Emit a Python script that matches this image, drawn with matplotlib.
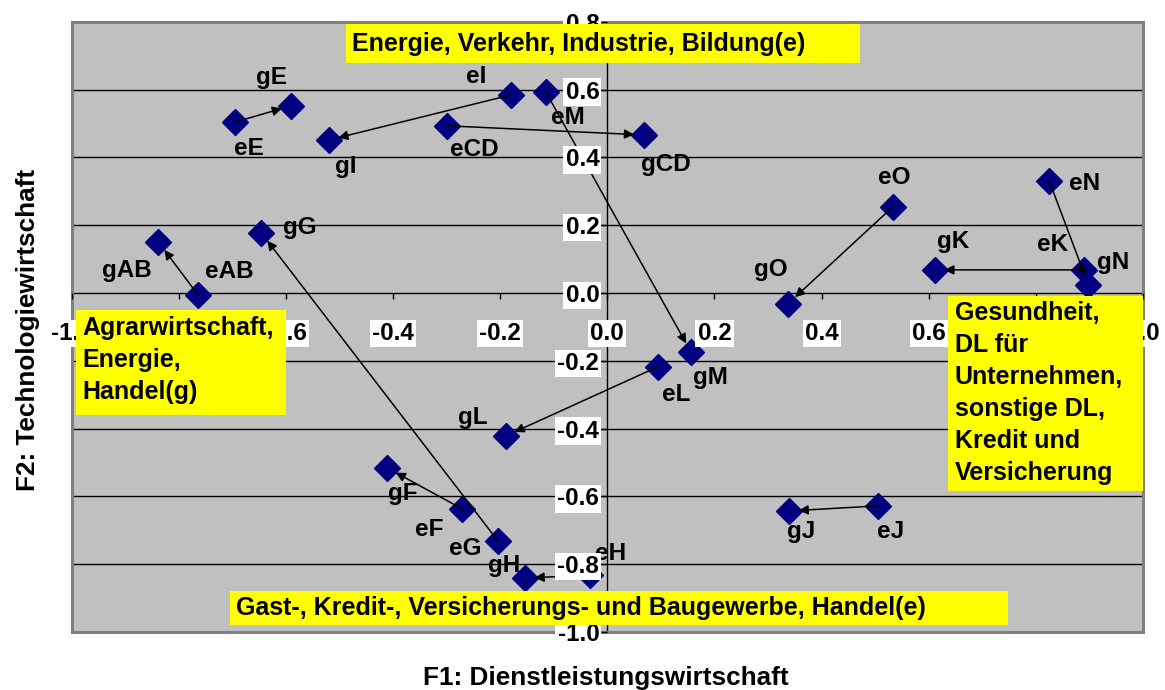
import matplotlib
matplotlib.use('Agg')
import matplotlib.pyplot as plt
from matplotlib.patches import Rectangle

plt.rcParams['font.family'] = ['Liberation Sans', 'DejaVu Sans']
plt.rcParams['font.weight'] = 'bold'

# ---------------- data ----------------
labels = ['eAB', 'gAB', 'eCD', 'gCD', 'eE', 'gE', 'eF', 'gF', 'eG', 'gG',
          'eH', 'gH', 'eI', 'gI', 'eJ', 'gJ', 'eK', 'gK', 'eL', 'gL',
          'eM', 'gM', 'eN', 'gN', 'eO', 'gO']
f1 = [-0.764, -0.838, -0.300, 0.068, -0.695, -0.590, -0.271, -0.411, -0.204, -0.646,
      -0.032, -0.154, -0.180, -0.520, 0.505, 0.339, 0.889, 0.611, 0.094, -0.190,
      -0.115, 0.156, 0.825, 0.898, 0.533, 0.337]
f2 = [-0.006, 0.150, 0.493, 0.466, 0.504, 0.552, -0.637, -0.516, -0.732, 0.177,
      -0.832, -0.841, 0.584, 0.451, -0.628, -0.643, 0.068, 0.068, -0.218, -0.422,
      0.593, -0.174, 0.330, 0.024, 0.254, -0.032]

arrow_from = ['eAB', 'eE', 'eI', 'eCD', 'eM', 'eG', 'eO', 'eN', 'eK', 'eL', 'eF', 'eH', 'eJ']
arrow_to = ['gAB', 'gE', 'gI', 'gCD', 'gM', 'gG', 'gO', 'gN', 'gK', 'gL', 'gF', 'gH', 'gJ']

x_ticks = [-1.0, -0.8, -0.6, -0.4, -0.2, 0.0, 0.2, 0.4, 0.6, 0.8, 1.0]
y_ticks = [-1.0, -0.8, -0.6, -0.4, -0.2, 0.0, 0.2, 0.4, 0.6, 0.8]

x_title = 'F1: Dienstleistungswirtschaft'
y_title = 'F2: Technologiewirtschaft'

box_top = 'Energie, Verkehr, Industrie, Bildung(e)'
box_left = 'Agrarwirtschaft,\nEnergie,\nHandel(g)'
box_bottom = 'Gast-, Kredit-, Versicherungs- und Baugewerbe, Handel(e)'
box_right = 'Gesundheit,\nDL für\nUnternehmen,\nsonstige DL,\nKredit und\nVersicherung'

# label offsets (pixels) - layout only
offsets = {
    'eE': (14, -26), 'gE': (-20, 28), 'gI': (17, -26), 'eI': (-35, 18),
    'eM': (22, -26), 'eCD': (28, -24), 'gCD': (22, -30), 'gAB': (-32, -28),
    'eAB': (31, 23), 'gG': (38, 5), 'eO': (1, 29), 'gO': (-17, 34),
    'eN': (35, -2), 'gK': (18, 28), 'eK': (-31, 25), 'gN': (25, 22),
    'gM': (20, -26), 'eL': (18, -28), 'gL': (-33, 19), 'gF': (16, -26),
    'eF': (-33, -21), 'eG': (-33, -7), 'gH': (-21, 13), 'eH': (20, 22),
    'gJ': (12, -21), 'eJ': (13, -26),
}

# ---------------- figure ----------------
W, H = 1165, 690
fig = plt.figure(figsize=(W / 100, H / 100), dpi=100)
fig.patch.set_facecolor('white')
ax = fig.add_axes([71.7 / W, (H - 632) / H, 1071.3 / W, 610.3 / H])
ax.set_facecolor('#C0C0C0')
ax.set_xlim(-1.0, 1.0)
ax.set_ylim(-1.0, 0.8)

FS = 17.5
FS_BOX = 18.0
FS_TITLE = 18.8

# grid lines
for yv in y_ticks:
    if -1.0 < yv < 0.8 and yv != 0.0:
        ax.axhline(yv, color='black', lw=1.0, zorder=1)

# border
ax.add_patch(Rectangle((0, 0), 1, 1, transform=ax.transAxes, fill=False,
                       edgecolor='#808080', lw=2.2, zorder=1.6, clip_on=False))

for s in ['top', 'right']:
    ax.spines[s].set_visible(False)
ax.spines['left'].set_position(('data', 0))
ax.spines['bottom'].set_position(('data', 0))
for s in ['left', 'bottom']:
    ax.spines[s].set_color('black')
    ax.spines[s].set_linewidth(1.0)
    ax.spines[s].set_zorder(1.5)

ax.set_xticks(x_ticks)
ax.set_yticks(y_ticks)
ax.set_xticklabels(['%.1f' % v for v in x_ticks])
ax.set_yticklabels(['%.1f' % v for v in y_ticks])
ax.tick_params(axis='x', direction='out', length=4.3, width=1, pad=16.5,
               labelsize=FS, color='black')
ax.tick_params(axis='y', direction='out', length=4.3, width=1, pad=1.5,
               labelsize=FS, color='black')
for lab in ax.get_xticklabels() + ax.get_yticklabels():
    lab.set_fontweight('bold')
    lab.set_bbox(dict(facecolor='white', edgecolor='none', pad=1.5))
ax.xaxis.set_zorder(4)
ax.yaxis.set_zorder(4)

# points
ax.plot(f1, f2, linestyle='none', marker='D', markersize=13,
        color='#000080', markeredgecolor='#000080', zorder=3)

pos = {n: (x, y) for n, x, y in zip(labels, f1, f2)}

# arrows
for a, b in zip(arrow_from, arrow_to):
    ax.annotate('', xy=pos[b], xytext=pos[a],
                arrowprops=dict(arrowstyle='-|>', color='black', lw=1.1,
                                mutation_scale=14, shrinkA=0, shrinkB=7),
                zorder=3)

# point labels
for n in labels:
    dx, dy = offsets[n]
    ax.annotate(n, xy=pos[n], xytext=(dx, dy), textcoords='offset pixels',
                ha='center', va='center', fontsize=FS, fontweight='bold',
                color='black', zorder=3.5)

# yellow boxes
def ybox(x0, x1, y0, y1, txt, tx, ty, va):
    ax.add_patch(Rectangle((x0, y0), x1 - x0, y1 - y0, transform=ax.transAxes,
                           facecolor='#FFFF00', edgecolor='none', zorder=6,
                           clip_on=False))
    ax.text(tx, ty, txt, transform=ax.transAxes, ha='left', va=va,
            fontsize=FS_BOX, fontweight='bold', color='black', zorder=7,
            linespacing=1.42)

ybox(0.256, 0.736, 0.932, 0.996, box_top, 0.262, 0.964, 'center')
ybox(0.004, 0.200, 0.356, 0.528, box_left, 0.0097, 0.518, 'top')
ybox(0.148, 0.874, 0.0115, 0.067, box_bottom, 0.153, 0.039, 'center')
ybox(0.818, 1.000, 0.231, 0.551, box_right, 0.8245, 0.542, 'top')

# axis titles
fig.text(606 / W, 1 - 678 / H, x_title, ha='center', va='center',
         fontsize=FS_TITLE, fontweight='bold')
fig.text(28 / W, 1 - 330 / H, y_title, ha='center', va='center',
         rotation=90, fontsize=FS_TITLE, fontweight='bold')

fig.savefig('out.png', dpi=100, facecolor='white')
